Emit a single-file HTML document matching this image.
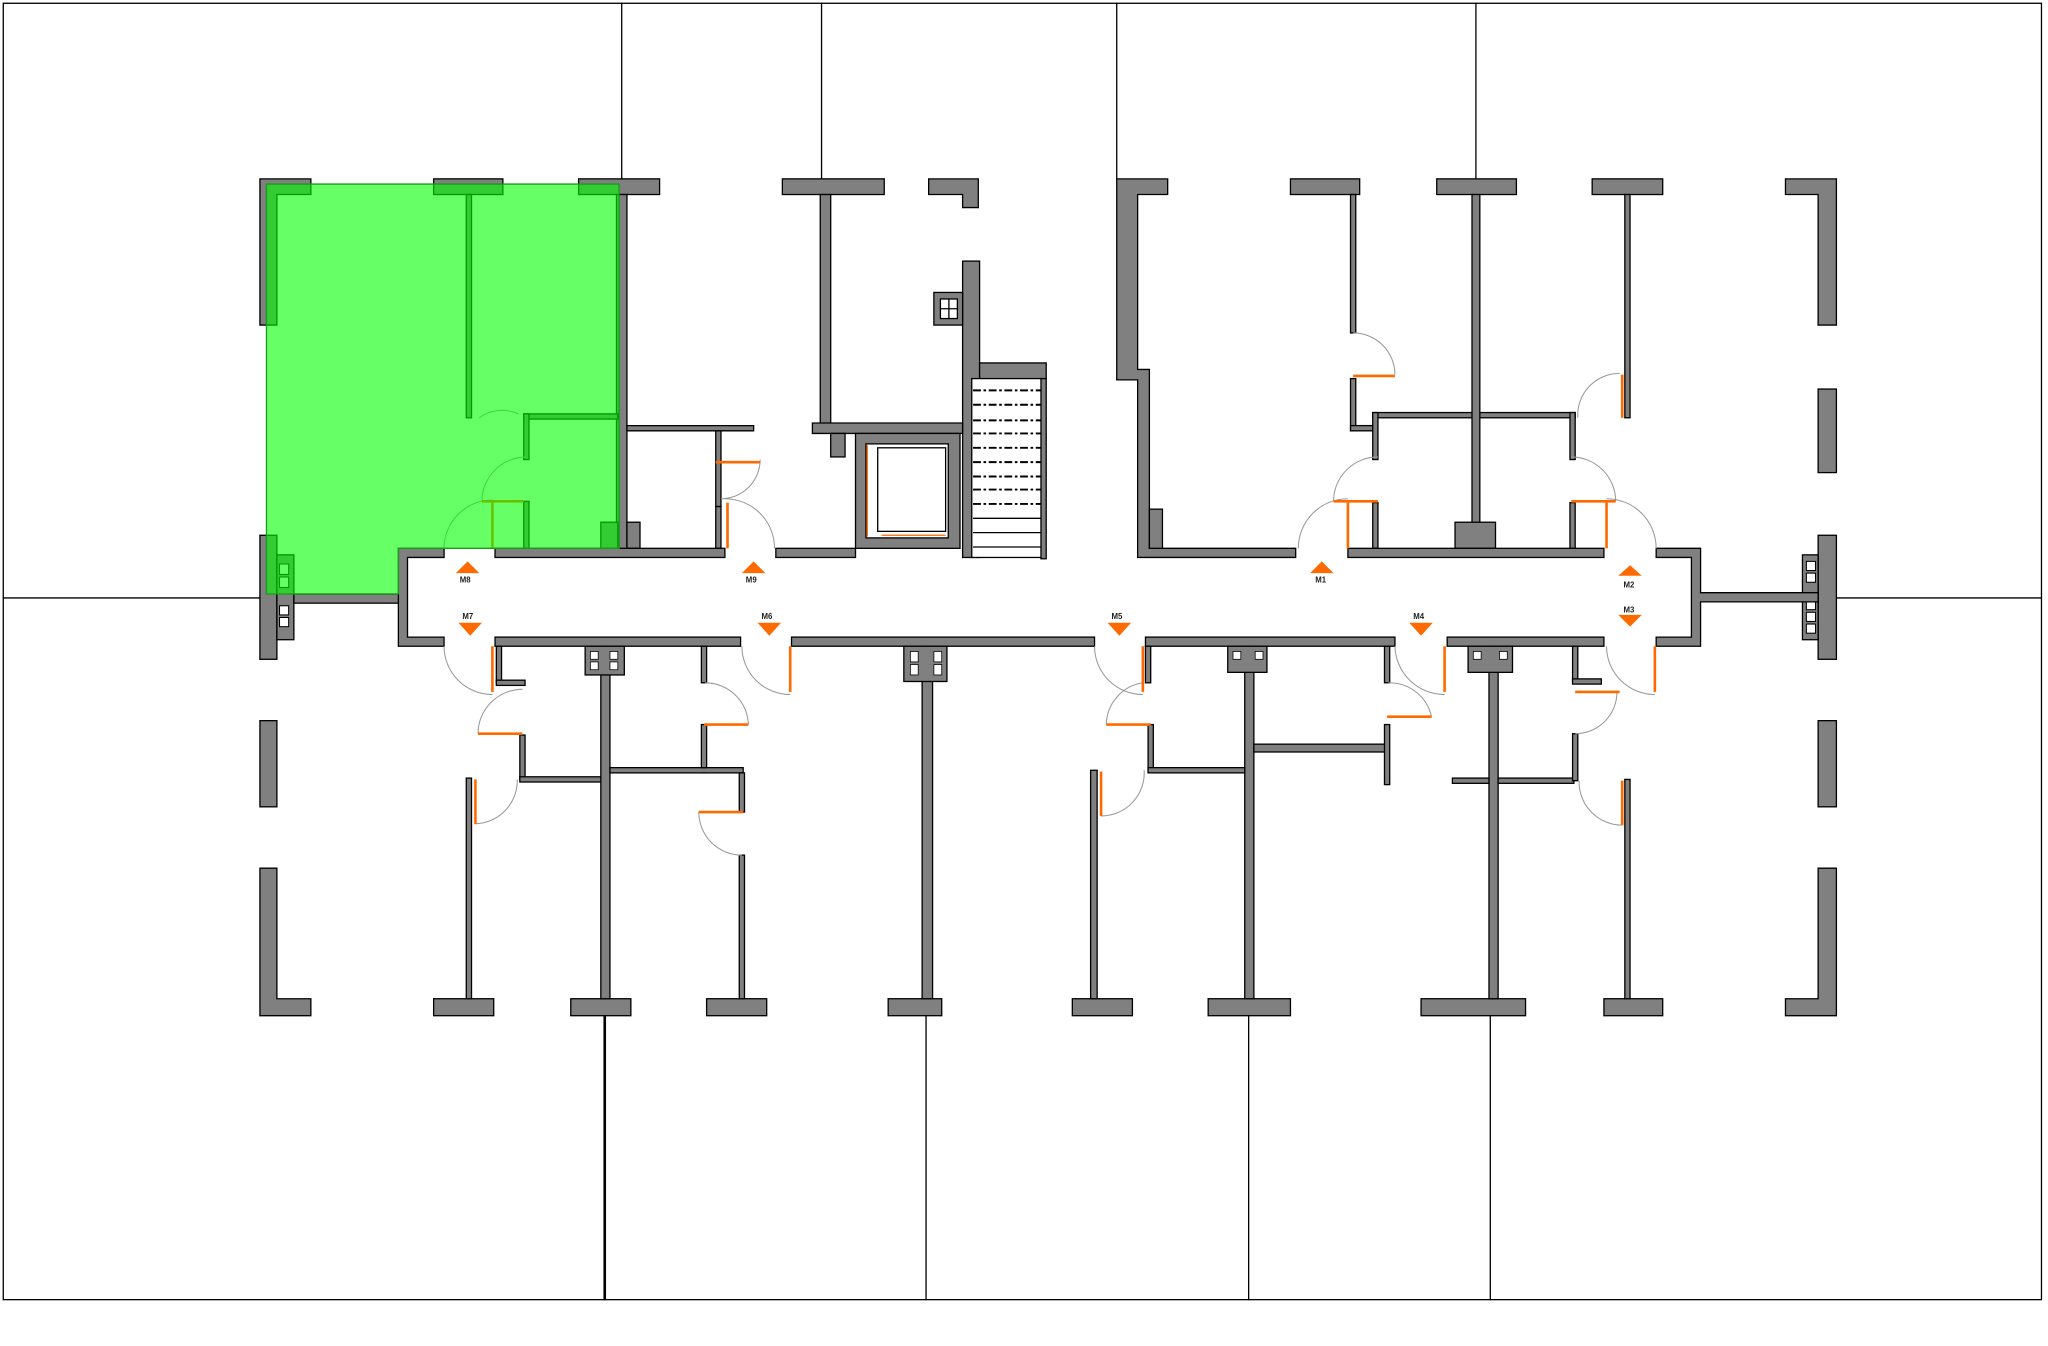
<!DOCTYPE html>
<html><head><meta charset="utf-8"><style>
html,body{margin:0;padding:0;background:#fff;}
svg{display:block;}
.w{fill:#808080;stroke:#000;stroke-width:1;}
.l{stroke:#000;stroke-width:1;fill:none;}
.d{stroke:#999;stroke-width:0.8;fill:none;}
.o{stroke:#ff6a00;stroke-width:2;fill:none;}
.a{fill:#ff6a00;}
text{font-family:"Liberation Sans",sans-serif;font-size:6px;font-weight:bold;fill:#222;}
</style></head><body>
<svg width="2048" height="1346" viewBox="0 0 1568 1031" preserveAspectRatio="none" xmlns="http://www.w3.org/2000/svg">
<rect x="0" y="0" width="1568" height="1031" fill="#fff"/>
<rect class="l" x="2.5" y="2.5" width="1560.5" height="993"/>
<line class="l" x1="476" y1="2" x2="476" y2="137"/>
<line class="l" x1="629" y1="2" x2="629" y2="137"/>
<line class="l" x1="855" y1="2" x2="855" y2="137"/>
<line class="l" x1="1130" y1="2" x2="1130" y2="137"/>
<line class="l" x1="2" y1="458" x2="199" y2="458"/>
<line class="l" x1="1406" y1="458" x2="1563" y2="458"/>
<line x1="463" y1="778" x2="463" y2="996" stroke="#000" stroke-width="2"/>
<line class="l" x1="709" y1="778" x2="709" y2="996"/>
<line class="l" x1="956" y1="778" x2="956" y2="996"/>
<line class="l" x1="1141" y1="778" x2="1141" y2="996"/>

<path class="w" d="M199 137H238V149H212V249H199Z"/>
<rect class="w" x="332" y="137" width="53" height="12"/><rect class="w" x="357" y="149" width="4" height="171"/>
<rect class="w" x="443" y="137" width="62" height="12"/><rect class="w" x="472" y="149" width="8" height="276"/>
<rect class="w" x="599" y="137" width="78" height="12"/><rect class="w" x="628" y="149" width="8" height="178"/>
<path class="w" d="M711 137H749V159H737V149H711Z"/>
<rect class="w" x="737" y="200" width="13" height="227"/>
<rect class="w" x="715" y="224" width="22" height="25"/><rect x="720" y="229" width="13" height="15" fill="#fff" stroke="#000" stroke-width="1"/>
<line class="l" x1="726.5" y1="229" x2="726.5" y2="244"/><line class="l" x1="720" y1="236.5" x2="733" y2="236.5"/>
<rect class="w" x="750" y="278" width="51" height="12"/>
<rect x="744" y="290" width="55" height="137" fill="#fff" stroke="#000"/>
<rect class="w" x="797" y="290" width="4" height="138"/>
<g stroke="#000" stroke-width="1.5" stroke-dasharray="6,2,2,2">
<line x1="745" y1="299" x2="797" y2="299"/><line x1="745" y1="310" x2="797" y2="310"/><line x1="745" y1="322" x2="797" y2="322"/><line x1="745" y1="332" x2="797" y2="332"/><line x1="745" y1="343" x2="797" y2="343"/><line x1="745" y1="354" x2="797" y2="354"/><line x1="745" y1="365" x2="797" y2="365"/><line x1="745" y1="375" x2="797" y2="375"/><line x1="745" y1="386" x2="797" y2="386"/>
</g>
<line class="l" x1="745" y1="397" x2="797" y2="397"/><line class="l" x1="745" y1="408" x2="797" y2="408"/><line class="l" x1="745" y1="419" x2="797" y2="419"/>
<path class="w" d="M622 324H737V332H622Z"/>
<rect class="w" x="636" y="332" width="11" height="18"/>
<rect class="w" x="655" y="332" width="80" height="88"/>
<rect x="663" y="340" width="63" height="72" fill="#fff" stroke="#000"/>
<rect x="672" y="343" width="52" height="64" fill="#fff" stroke="#000"/>
<line x1="664" y1="341" x2="664" y2="411" stroke="#ff6a00" stroke-width="1"/><line x1="675" y1="410" x2="724" y2="410" stroke="#ff6a00" stroke-width="1"/>
<path class="w" d="M480 326H577V330H480Z"/>
<rect class="w" x="548" y="330" width="4" height="58"/>
<rect class="w" x="548" y="388" width="4" height="32"/>
<rect class="w" x="401" y="317" width="72" height="4"/><rect class="w" x="401" y="317" width="4" height="35"/>
<rect class="w" x="401" y="384" width="4" height="36"/>
<rect class="w" x="460" y="400" width="13" height="20"/><rect class="w" x="480" y="400" width="10" height="20"/>
<path class="w" d="M855 137H894V149H871V283H880V420H992V427H871V291H855Z"/>
<rect class="w" x="880" y="390" width="10" height="30"/>
<rect class="w" x="988" y="137" width="53" height="12"/><rect class="w" x="1034" y="149" width="4" height="106"/>
<rect class="w" x="1034" y="290" width="4" height="40"/><rect class="w" x="1034" y="326" width="20" height="4"/>
<rect class="w" x="1051" y="316" width="155" height="4"/>
<rect class="w" x="1051" y="316" width="4" height="36"/><rect class="w" x="1051" y="385" width="4" height="35"/>
<rect class="w" x="1202" y="316" width="4" height="36"/><rect class="w" x="1202" y="385" width="4" height="35"/>
<rect class="w" x="1100" y="137" width="61" height="12"/><rect class="w" x="1127" y="149" width="6" height="271"/>
<rect class="w" x="1114" y="400" width="31" height="20"/>
<rect class="w" x="1219" y="137" width="54" height="12"/><rect class="w" x="1244" y="149" width="4" height="171"/>
<path class="w" d="M1367 137H1406V249H1392V149H1367Z"/>
<rect class="w" x="1392" y="298" width="14" height="64"/>
<rect class="w" x="1392" y="410" width="14" height="95"/>
<rect class="w" x="1380" y="425" width="12" height="65"/>
<g fill="#fff" stroke="#000" stroke-width="0.8"><rect x="1383" y="430" width="7" height="7"/><rect x="1383" y="439" width="7" height="7"/><rect x="1383" y="460" width="7" height="7"/><rect x="1383" y="469" width="7" height="7"/><rect x="1383" y="478" width="7" height="7"/></g>
<path class="w" d="M1268 420H1302V454H1392V461H1302V495H1268V488H1295V427H1268Z"/>
<path class="w" d="M340 420H305V495H340V488H312V427H340Z"/>
<rect class="w" x="379" y="420" width="176" height="7"/>
<rect class="w" x="594" y="420" width="61" height="7"/>
<rect class="w" x="1032" y="420" width="196" height="7"/>
<rect class="w" x="379" y="488" width="188" height="7"/>
<rect class="w" x="606" y="488" width="232" height="7"/>
<rect class="w" x="877" y="488" width="191" height="7"/>
<rect class="w" x="1108" y="488" width="120" height="7"/>
<rect class="w" x="199" y="410" width="13" height="95"/>
<rect class="w" x="212" y="425" width="13" height="65"/>
<g fill="#fff" stroke="#000" stroke-width="0.8"><rect x="214" y="432" width="7" height="8"/><rect x="214" y="442" width="7" height="8"/><rect x="214" y="464" width="7" height="7"/><rect x="214" y="473" width="7" height="7"/></g>
<rect class="w" x="225" y="455" width="80" height="7"/>
<rect class="w" x="199" y="552" width="13" height="66"/>
<path class="w" d="M199 665H212V765H238V778H199Z"/>
<rect class="w" x="1392" y="552" width="14" height="66"/>
<path class="w" d="M1392 665H1406V778H1367V765H1392Z"/>
<rect class="w" x="332" y="765" width="46" height="13"/>
<rect class="w" x="437" y="765" width="46" height="13"/>
<rect class="w" x="541" y="765" width="46" height="13"/>
<rect class="w" x="680" y="765" width="41" height="13"/>
<rect class="w" x="821" y="765" width="46" height="13"/>
<rect class="w" x="925" y="765" width="63" height="13"/>
<rect class="w" x="1088" y="765" width="80" height="13"/>
<rect class="w" x="1228" y="765" width="45" height="13"/>
<rect class="w" x="357" y="596" width="4" height="169"/>
<rect class="w" x="460" y="495" width="7" height="270"/>
<rect class="w" x="448" y="495" width="30" height="22"/>
<rect class="w" x="566" y="655" width="4" height="110"/>
<rect class="w" x="706" y="495" width="8" height="270"/>
<rect class="w" x="692" y="495" width="33" height="27"/>
<rect class="w" x="835" y="590" width="5" height="175"/>
<rect class="w" x="953" y="495" width="7" height="270"/>
<rect class="w" x="940" y="495" width="30" height="20"/>
<rect class="w" x="1140" y="495" width="7" height="270"/>
<rect class="w" x="1124" y="495" width="34" height="20"/>
<rect class="w" x="1244" y="597" width="4" height="168"/>
<g fill="#fff" stroke="#000" stroke-width="0.6">
<rect x="452" y="499" width="6" height="6"/><rect x="467" y="499" width="6" height="6"/><rect x="452" y="507" width="6" height="6"/><rect x="467" y="507" width="6" height="6"/>
<rect x="697" y="499" width="6" height="8"/><rect x="715" y="499" width="6" height="8"/><rect x="697" y="509" width="6" height="8"/><rect x="715" y="509" width="6" height="8"/>
<rect x="944" y="499" width="6" height="6"/><rect x="961" y="499" width="6" height="6"/>
<rect x="1128" y="499" width="6" height="6"/><rect x="1148" y="499" width="6" height="6"/>
</g>
<rect class="w" x="380" y="495" width="4" height="28"/><rect class="w" x="380" y="521" width="22" height="4"/>
<rect class="w" x="398" y="563" width="4" height="34"/><rect class="w" x="398" y="595" width="62" height="4"/>
<rect class="w" x="467" y="588" width="102" height="4"/><rect class="w" x="537" y="495" width="4" height="28"/>
<rect class="w" x="537" y="555" width="4" height="33"/><rect class="w" x="566" y="592" width="4" height="30"/>
<rect class="w" x="877" y="495" width="4" height="28"/><rect class="w" x="879" y="555" width="4" height="36"/>
<rect class="w" x="879" y="588" width="74" height="4"/><rect class="w" x="960" y="570" width="102" height="6"/>
<rect class="w" x="1060" y="495" width="4" height="28"/><rect class="w" x="1060" y="555" width="4" height="46"/>
<rect class="w" x="1112" y="596" width="28" height="4"/><rect class="w" x="1147" y="596" width="58" height="4"/>
<rect class="w" x="1204" y="495" width="4" height="28"/><rect class="w" x="1204" y="520" width="22" height="4"/>
<rect class="w" x="1204" y="562" width="4" height="36"/>
<g class="d">
<path d="M340 420A37 37 0 0 1 377 383"/>
<path d="M593 420A38 38 0 0 0 555 382"/>
<path d="M369 384A34 34 0 0 1 403 350"/>
<path d="M552 382A30 30 0 0 0 582 352"/>
<path d="M367 320A30 30 0 0 1 397 317"/>
<path d="M994 420A38 38 0 0 1 1032 382"/>
<path d="M1268 420A38 38 0 0 0 1230 382"/>
<path d="M1021 384A34 34 0 0 1 1055 350"/>
<path d="M1237 384A34 34 0 0 0 1203 350"/>
<path d="M1036 255A32 32 0 0 1 1068 287"/>
<path d="M1208 320A32 32 0 0 1 1240 286"/>
<path d="M340 495A37 37 0 0 0 377 532"/>
<path d="M568 495A37 37 0 0 0 605 532"/>
<path d="M838 495A37 37 0 0 0 875 532"/>
<path d="M1068 495A38 38 0 0 0 1106 532"/>
<path d="M1230 495A37 37 0 0 0 1267 532"/>
<path d="M400 528A34 34 0 0 0 366 562"/>
<path d="M540 523A33 33 0 0 1 573 555"/>
<path d="M875 523A33 33 0 0 0 847 555"/>
<path d="M1063 523A33 33 0 0 1 1096 549"/>
<path d="M1238 530A32 32 0 0 1 1206 562"/>
<path d="M396 597A33 33 0 0 1 363 631"/>
<path d="M535 622A33 33 0 0 0 568 655"/>
<path d="M876 590A33 33 0 0 1 843 625"/>
<path d="M1209 598A33 33 0 0 0 1242 632"/>
</g>
<g class="o">
<line x1="377" y1="385" x2="377" y2="420"/><line x1="557" y1="385" x2="557" y2="420"/>
<line x1="369" y1="384" x2="401" y2="384"/><line x1="548" y1="354" x2="582" y2="354"/>
<line x1="1032" y1="385" x2="1032" y2="420"/><line x1="1230" y1="385" x2="1230" y2="420"/>
<line x1="1021" y1="384" x2="1055" y2="384"/><line x1="1203" y1="384" x2="1237" y2="384"/>
<line x1="1036" y1="288" x2="1068" y2="288"/><line x1="1242" y1="287" x2="1242" y2="320"/>
<line x1="377" y1="495" x2="377" y2="530"/><line x1="605" y1="495" x2="605" y2="530"/>
<line x1="875" y1="495" x2="875" y2="530"/><line x1="1106" y1="495" x2="1106" y2="530"/><line x1="1267" y1="495" x2="1267" y2="530"/>
<line x1="366" y1="562" x2="400" y2="562"/><line x1="539" y1="555" x2="573" y2="555"/>
<line x1="847" y1="555" x2="881" y2="555"/><line x1="1062" y1="549" x2="1096" y2="549"/><line x1="1206" y1="530" x2="1240" y2="530"/>
<line x1="364" y1="597" x2="364" y2="631"/><line x1="535" y1="622" x2="569" y2="622"/>
<line x1="843" y1="591" x2="843" y2="625"/><line x1="1242" y1="598" x2="1242" y2="632"/>
</g>
<path d="M204 141H474V420H305V455H204Z" fill="rgb(0,255,0)" fill-opacity="0.6" stroke="#1a9a1a" stroke-width="1"/>
<g class="a">
<polygon points="358,430 349,439 367,439"/>
<polygon points="577,430 568,439 586,439"/>
<polygon points="1012,430 1003,439 1021,439"/>
<polygon points="1248,433 1239,441 1257,441"/>
<polygon points="360,487 351,477 369,477"/>
<polygon points="589,487 580,477 598,477"/>
<polygon points="857,487 848,477 866,477"/>
<polygon points="1088,487 1079,477 1097,477"/>
<polygon points="1248,480 1239,471 1257,471"/>
</g>
<text x="352" y="446">M8</text><text x="571" y="446">M9</text><text x="1007" y="446">M1</text>
<text x="1243" y="450">M2</text><text x="1243" y="469">M3</text>
<text x="354" y="474">M7</text><text x="583" y="474">M6</text><text x="851" y="474">M5</text><text x="1082" y="474">M4</text>
</svg>
</body></html>
